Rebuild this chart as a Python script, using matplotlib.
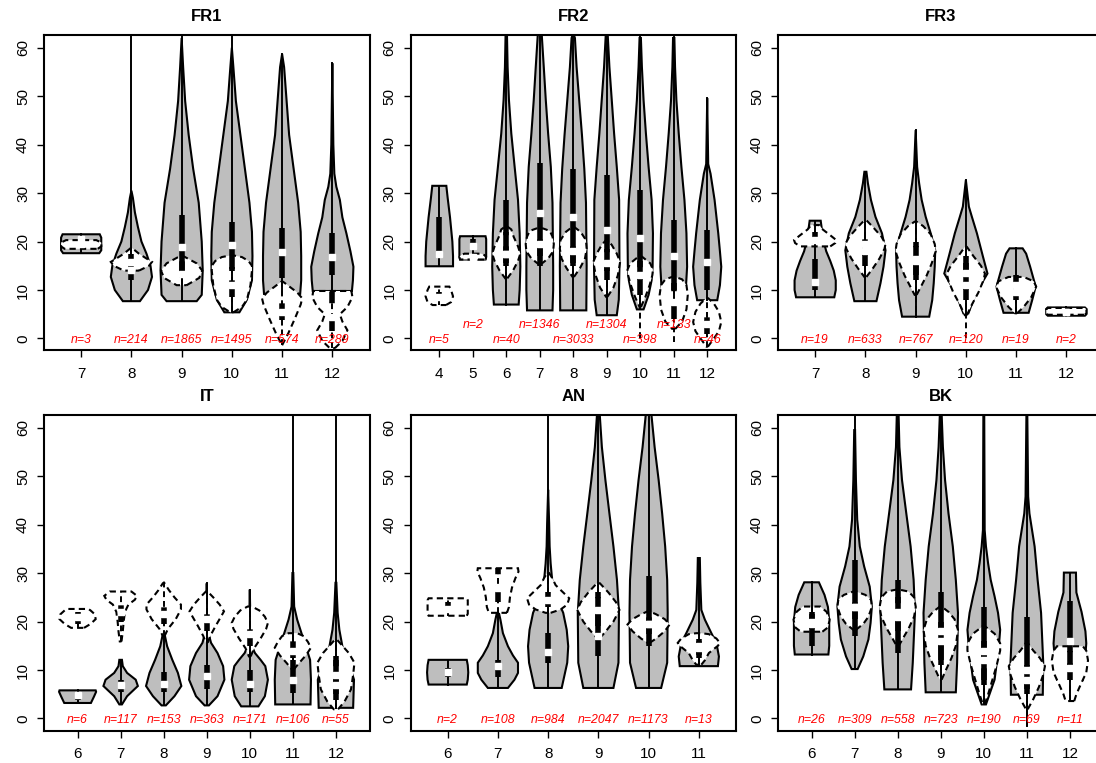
import matplotlib
matplotlib.use("Agg")
import matplotlib.pyplot as plt

plt.rcParams['font.family'] = ['Liberation Sans', 'DejaVu Sans']

# ---- data: violin profiles are (y, half width) pairs,
# stats are (lower whisker, q1, median, q3, upper whisker)

fr1_months = [7, 8, 9, 10, 11, 12]
fr1_n = [3, 214, 1865, 1495, 574, 289]
fr1_grey = [
    [(17.6, .36), (18.2, .4), (20.8, .4), (21.5, .37)],
    [(7.7, .17), (10, .33), (12.7, .41), (15, .38), (17.5, .3), (20, .2), (23, .13), (26, .07), (29, .03), (30.5, 0)],
    [(7.7, .3), (9, .4), (14, .42), (20, .4), (28, .34), (35, .23), (42, .14), (49, .07), (56, .03), (62, 0)],
    [(5.4, .15), (8, .3), (12, .4), (17, .41), (22, .4), (28, .35), (35, .26), (42, .17), (49, .08), (56, .03), (60, 0)],
    [(9.2, .36), (12, .38), (17, .38), (22, .37), (28, .32), (35, .23), (42, .14), (49, .09), (56, .04), (58.7, 0)],
    [(9.8, .39), (12, .41), (14.8, .42), (18, .36), (21.7, .28), (25, .2), (28.6, .15), (31.3, .08), (34, .04), (40, .02), (56.8, 0)],
]
fr1_grey_stats = [(17.6, 19.8, 20.6, 21, 21.5), (7.7, 12.0, 14.1, 15.3, 65), (7.7, 13.4, 18.8, 25.5, 65),
                  (5.4, 14, 19.3, 24.1, 65), (9.2, 12.4, 17.8, 22.7, 58.7), (9.8, 13.1, 16.9, 21.7, 56.8)]
fr1_white = [
    [(18.5, .33), (19.0, .4), (19.8, .4), (20.3, .3)],
    [(14.0, .15), (15.0, .35), (15.8, .41), (16.5, .3), (17.5, .15), (18.6, .02)],
    [(11.0, .1), (12.5, .35), (14, .41), (15.5, .3), (16.9, .05)],
    [(5.4, .03), (6.5, .2), (8, .3), (11, .37), (14, .4), (15, .4), (16, .33), (16.8, .2), (17.2, 0)],
    [(-1.4, 0), (1, .12), (4, .25), (7, .37), (8.3, .4), (9.5, .3), (11.7, .02)],
    [(-2, .05), (-.5, .2), (1.7, .3), (3.5, .2), (5.0, .15), (6.5, .3), (8.5, .4), (9.8, .38)],
]
fr1_white_stats = [(18.5, 18.8, 19.5, 20, 20.3), (14.0, 15.5, 15.8, 17.5, 18.6), (11.0, 12.5, 13.3, 16, 16.9),
                   (5.4, 8.6, 11, 14.8, 17.2), (-1.4, 3.8, 5.5, 7.9, 11.7), (-2, 1.5, 4.5, 9.5, 9.8)]

fr2_months = [4, 5, 6, 7, 8, 9, 10, 11, 12]
fr2_n = [5, 2, 40, 1346, 3033, 1304, 398, 133, 46]
fr2_grey = [
    [(14.9, .41), (17, .41), (20, .39), (25, .32), (29, .25), (31.5, .21)],
    [(16.3, .38), (17, .4), (20.5, .4), (21.1, .38)],
    [(7, .37), (10, .4), (14.8, .42), (21.7, .4), (28.6, .35), (35.4, .25), (42.3, .15), (49.2, .08), (56, .04), (63, .02)],
    [(5.8, .38), (10, .4), (15, .4), (28, .38), (35.4, .33), (42.3, .25), (49.2, .18), (56, .12), (62.6, .06), (66, .04)],
    [(5.8, .39), (15, .4), (28, .38), (35, .33), (42, .26), (49, .18), (56, .1), (62, .05), (63, 0)],
    [(4.8, .3), (8, .36), (14.8, .38), (28.6, .37), (35.4, .3), (42.3, .22), (49.2, .15), (56, .08), (62.6, .03), (65, .02)],
    [(6.0, .1), (9, .25), (12, .34), (14.8, .37), (21.7, .38), (28.6, .34), (35.4, .25), (42.3, .17), (49.2, .1), (56, .05), (62, .02)],
    [(8, .3), (10, .36), (14.8, .4), (21.7, .38), (28.6, .32), (35.4, .23), (42.3, .15), (49.2, .08), (56, .04), (62, .02)],
    [(7.9, .3), (11, .38), (14.8, .42), (18, .38), (21.7, .33), (28.6, .22), (34, .1), (36, .03), (49.6, 0)],
]
fr2_grey_stats = [(14.9, 17.2, 17.4, 25.1, 31.5), (16.3, 18.5, 19.1, 20.5, 21.1), (7.0, 15, 17.5, 28.6, 65),
                  (5.8, 15, 25.9, 36.3, 65), (5.8, 15, 25.1, 34.9, 65), (4.8, 14, 22.4, 33.7, 65),
                  (6.0, 12, 20.8, 30.6, 65), (7, 10, 17, 24.5, 65), (7.9, 10, 15.7, 22.3, 49.6)]
fr2_white = [
    [(6.9, .2), (7.5, .35), (8.7, .41), (10, .35), (10.7, .3)],
    [(16.3, .38), (16.8, .4), (17.2, .35), (17.5, .25)],
    [(12.4, .03), (14, .2), (16, .35), (17.5, .42), (19, .35), (21, .22), (22.5, .15), (23, .05)],
    [(15.3, .03), (16.5, .25), (18, .4), (19.5, .42), (21, .38), (22.2, .3), (22.7, .1)],
    [(12.7, .02), (14.5, .2), (16.5, .35), (18.5, .4), (20.3, .38), (22, .22), (23, .03)],
    [(8.6, .02), (10.5, .2), (13, .33), (15.8, .4), (17.5, .3), (19.3, .15), (20.3, .02)],
    [(6.5, .02), (8.5, .15), (11, .28), (13, .36), (14.2, .38), (15.5, .3), (16.9, .05)],
    [(2, .05), (3.5, .25), (6, .38), (9, .42), (11, .38), (12.2, .25), (12.7, .05)],
    [(-1.7, .02), (0, .2), (1.5, .35), (3.4, .42), (5.5, .35), (7.2, .2), (8.3, .03)],
]
fr2_white_stats = [(6.9, 8, 8.5, 9.5, 10.7), (16.3, 16.5, 16.8, 17.2, 17.5), (12.4, 15.5, 17.5, 22, 23),
                   (15.3, 17, 19.5, 21.5, 22.7), (12.7, 15.5, 18, 21, 23), (8.6, 12, 15.5, 18.5, 20.3),
                   (0, 9, 13, 16, 16.9), (-0.7, 4, 7.5, 11.5, 12.7), (-1.7, 1, 3, 6, 8.3)]

fr3_months = [7, 8, 9, 10, 11, 12]
fr3_n = [19, 633, 767, 120, 19, 2]
fr3_grey = [
    [(8.5, .38), (10, .41), (12, .41), (14, .37), (16, .3), (18, .22), (20, .17), (22, .14), (24.3, .11)],
    [(7.7, .22), (11.4, .3), (14.8, .36), (18.2, .4), (21.7, .33), (25.1, .2), (28.6, .11), (32, .05), (34.4, .02)],
    [(4.5, .27), (7.9, .33), (11.4, .36), (14.8, .38), (18.2, .39), (21.7, .3), (25.1, .2), (28.6, .12), (32, .07), (35.4, .03), (43, 0)],
    [(5.2, .05), (9.3, .2), (13.4, .43), (16.9, .34), (21.7, .22), (25.1, .12), (27.2, .06), (32.7, 0)],
    [(5.3, .25), (7.9, .32), (10.7, .39), (14.8, .28), (17.5, .2), (18.6, .13)],
    [(4.7, .37), (5.0, .4), (6.1, .4), (6.4, .37)],
]
fr3_grey_stats = [(8.5, 10, 11.7, 16.5, 24.3), (7.7, 15, 18, 20, 34.4), (4.5, 12, 16.5, 20, 43),
                  (5.2, 10, 13.5, 17, 32.7), (5.3, 9, 11, 13.1, 18.6), (4.7, 5.2, 5.5, 5.8, 6.4)]
fr3_white = [
    [(19.0, .3), (19.7, .4), (20.3, .42), (21.3, .3), (22.5, .15), (23.4, .08)],
    [(12.7, .02), (14.5, .15), (16.5, .28), (18.5, .38), (19.5, .4), (21, .32), (23, .15), (24.4, .02)],
    [(9, .02), (11, .12), (13, .22), (15.5, .32), (18, .4), (19.5, .38), (21.5, .3), (23.2, .15), (24.1, .02)],
    [(4.8, .02), (7, .12), (9.5, .25), (12, .35), (13.4, .38), (15, .3), (17, .15), (18.9, .02)],
    [(5.2, .02), (6.5, .15), (8.5, .3), (10.7, .4), (11.8, .35), (12.7, .15)],
    [(4.9, .37), (5.2, .4), (6.0, .4), (6.3, .37)],
]
fr3_white_stats = [(19.1, 19.5, 20.3, 22, 23.4), (12.7, 17, 19.5, 21, 24.4), (5.5, 13, 16, 19, 24.1),
                   (0, 8, 11, 15.5, 18.9), (5.2, 8, 9.5, 11.5, 12.7), (4.9, 5.2, 5.5, 5.8, 6.3)]

it_months = [6, 7, 8, 9, 10, 11, 12]
it_n = [6, 117, 153, 363, 171, 106, 55]
it_grey = [
    [(3.2, .31), (4.5, .38), (5.5, .43), (5.8, .42)],
    [(2.9, .03), (4.6, .15), (6.7, .4), (8, .35), (9.4, .15), (10.8, .05), (12.1, .03)],
    [(2.7, .05), (4.6, .25), (6.7, .41), (9.4, .33), (12.1, .2), (14.9, .08), (17, .03), (17.5, 0)],
    [(2.7, .05), (4.6, .25), (8, .41), (10.8, .38), (13.5, .25), (15.6, .1), (17.6, .04), (20, .02), (27.9, 0)],
    [(2.5, .2), (4.6, .35), (8, .42), (10.8, .36), (12.1, .25), (13.5, .12), (14.9, .05), (17, .02), (26.6, 0)],
    [(2.9, .41), (8, .42), (12.1, .4), (14.9, .3), (17.6, .2), (20.4, .1), (23.1, .03), (30, .01)],
    [(2.2, .4), (8, .42), (11.5, .3), (14.9, .15), (18.3, .08), (21.8, .04), (28, .01)],
]
it_grey_stats = [(3.2, 3.8, 4.8, 5.3, 5.8), (2.9, 5.5, 7.0, 8, 12.1), (2.7, 5.5, 7.2, 9.5, 17),
                 (2.7, 6, 8.7, 11, 27.9), (2.5, 5.5, 7.2, 10, 26.6), (2.9, 5.3, 8, 12, 65), (2.2, 3.9, 7, 12.8, 65)]
it_white = [
    [(18.7, .15), (19.5, .3), (20.5, .42), (21.5, .4), (22.3, .3), (22.6, .25)],
    [(15.9, .02), (18, .05), (20, .07), (22, .1), (23.5, .18), (24.5, .33), (25.3, .38), (26.2, .25)],
    [(17, .02), (18.5, .1), (20.5, .28), (22.5, .4), (23.5, .4), (25, .25), (26.5, .12), (27.9, .02)],
    [(15.6, .02), (17, .08), (19, .2), (21, .33), (22.1, .4), (23.5, .3), (25, .15), (26.2, .02)],
    [(12.8, .02), (14.5, .1), (16.5, .25), (18.5, .38), (19.7, .42), (21, .35), (22.3, .22), (23.1, .05)],
    [(10.1, .02), (11.5, .15), (13, .3), (14.6, .42), (15.8, .35), (17, .25), (17.6, .1)],
    [(1.9, .05), (3.5, .2), (6, .35), (9, .4), (11.5, .43), (13.5, .3), (15, .15), (16.3, .02)],
]
it_white_stats = [(18.7, 19.5, 21, 22, 22.6), (15.9, 20, 22, 24, 26.2), (17, 19.5, 21.5, 24, 28.5),
                  (15.6, 18, 20.5, 23, 26.2), (12.8, 15, 17.5, 20.5, 23.1), (10.1, 12.5, 14, 16, 17.6),
                  (1.9, 5, 9, 12, 16.3)]

an_months = [6, 7, 8, 9, 10, 11]
an_n = [2, 108, 984, 2047, 1173, 13]
an_grey = [
    [(7, .38), (8, .4), (9.5, .41), (11, .4), (12.1, .38)],
    [(6.3, .2), (8, .33), (9.4, .4), (11.5, .4), (13, .3), (14.9, .2), (17.6, .1), (20.4, .05), (21.8, .02)],
    [(6.3, .27), (11.5, .38), (14.9, .4), (18.3, .37), (21.8, .3), (25.2, .16), (28.6, .08), (32, .05), (35.5, .03), (40.3, .02), (47.2, 0)],
    [(6.3, .3), (11.5, .4), (21.8, .41), (28.6, .37), (35.5, .3), (42.3, .22), (49.2, .14), (56, .07), (62.3, .03), (64, .02)],
    [(6.3, .25), (11.5, .37), (21.8, .38), (28.6, .37), (35.5, .33), (42.3, .27), (49.2, .2), (56, .12), (62.3, .06), (65, .04)],
    [(10.8, .38), (12.8, .4), (15.6, .35), (17.6, .25), (20.4, .12), (22.4, .05), (28, .03), (33.1, .02)],
]
an_grey_stats = [(7, 8.5, 9.6, 10.5, 12.1), (6.3, 8.5, 10.8, 12, 21.8), (6.3, 11.5, 13.7, 17.6, 65),
                 (6.3, 12.8, 17, 26, 65), (6.3, 15, 19.5, 29.3, 65), (10.8, 13, 15, 16.5, 33.1)]
an_white = [
    [(21.2, .38), (21.6, .4), (24.4, .4), (24.8, .38)],
    [(21.8, .18), (23, .22), (25, .24), (27, .28), (29, .35), (30.3, .41), (31, .4)],
    [(21.8, .05), (22.5, .25), (23.5, .38), (24.8, .42), (26, .3), (27.5, .15), (29, .08), (30, .02)],
    [(16.6, .03), (18, .15), (20, .3), (22.4, .42), (24, .35), (26, .2), (27.9, .03)],
    [(15.6, .02), (16.5, .15), (18, .32), (19.4, .42), (20.5, .32), (21.5, .15), (22.1, .02)],
    [(11.1, .05), (12, .12), (13.5, .2), (15, .38), (15.6, .42), (16.5, .35), (17.4, .2), (17.6, .05)],
]
an_white_stats = [(21.2, 22, 22.5, 24, 24.8), (21.8, 24, 27, 31, 31), (21.8, 23, 24.5, 26, 30),
                  (16.6, 19, 22.4, 25, 27.9), (15.6, 17.5, 19.4, 21, 22.1), (11.1, 12.5, 14.5, 16.5, 17.6)]

bk_months = [6, 7, 8, 9, 10, 11, 12]
bk_n = [26, 309, 558, 723, 190, 69, 11]
bk_grey = [
    [(13.2, .39), (15, .41), (20, .41), (23, .38), (25.5, .3), (27.5, .2), (28.1, .17)],
    [(10.2, .07), (12.8, .2), (16.3, .32), (19.7, .37), (23.1, .4), (27.2, .35), (31.4, .22), (35.5, .12), (41, .06), (49.2, .03), (59.5, .01)],
    [(6, .31), (11.5, .35), (21.8, .4), (28.6, .37), (35.5, .3), (42.3, .2), (49.2, .1), (56, .04), (63, .02)],
    [(5.4, .35), (11.5, .38), (21.8, .4), (28.6, .35), (35.5, .28), (42.3, .18), (49.2, .1), (56, .05), (63, .02)],
    [(2.9, .05), (8, .25), (14.9, .35), (18.3, .38), (21.8, .33), (25.2, .25), (28.6, .16), (32, .1), (35.5, .05), (38.9, .02), (63, .01)],
    [(4.9, .37), (11.5, .38), (21.8, .33), (28.6, .25), (35.5, .18), (38.9, .12), (42.3, .06), (45.8, .03), (63, .01)],
    [(8, .3), (12, .35), (15.5, .38), (18, .36), (22, .27), (26, .15), (30.1, .14)],
]
bk_grey_stats = [(13.2, 14.9, 19.5, 22, 28.1), (10.2, 17, 23, 32.7, 65), (6, 13.5, 21, 28.6, 65),
                 (5.4, 11, 18, 26, 65), (2.9, 8, 14, 23.1, 65), (-1.6, 6, 10, 21, 65), (3.6, 11, 15.9, 24.2, 30.1)]
bk_white = [
    [(17.9, .25), (18.8, .38), (20.4, .42), (22, .35), (23.1, .2)],
    [(18.3, .03), (19.5, .2), (21, .32), (23, .4), (24.5, .38), (25.5, .25), (26.2, .03)],
    [(14.9, .02), (16.5, .12), (18.5, .25), (21, .38), (23, .42), (25, .38), (26.2, .25), (26.6, .03)],
    [(8, .02), (10, .12), (12.5, .25), (15, .35), (18.3, .4), (20.5, .32), (22, .18), (23.1, .02)],
    [(2.9, .02), (5, .1), (8, .2), (11, .3), (14, .38), (15.5, .38), (17.5, .25), (19, .03)],
    [(1.9, .02), (4, .15), (6.5, .28), (9, .38), (10.8, .42), (12.5, .3), (14, .15), (15.6, .02)],
    [(3.6, .1), (5, .15), (7, .25), (9.5, .38), (12, .42), (14, .38), (14.9, .3)],
]
bk_white_stats = [(17.9, 18.5, 20, 21.5, 23.1), (18.3, 20.5, 23, 25, 26.2), (14.9, 18, 22, 25, 26.6),
                  (8, 12, 16, 20, 23.1), (2.9, 7, 12, 16, 19), (-1.6, 5, 8, 11, 15.6), (3.6, 8, 10.5, 14, 14.9)]

panels = [
    ("FR1", fr1_months, fr1_n, fr1_grey, fr1_grey_stats, fr1_white, fr1_white_stats),
    ("FR2", fr2_months, fr2_n, fr2_grey, fr2_grey_stats, fr2_white, fr2_white_stats),
    ("FR3", fr3_months, fr3_n, fr3_grey, fr3_grey_stats, fr3_white, fr3_white_stats),
    ("IT", it_months, it_n, it_grey, it_grey_stats, it_white, it_white_stats),
    ("AN", an_months, an_n, an_grey, an_grey_stats, an_white, an_white_stats),
    ("BK", bk_months, bk_n, bk_grey, bk_grey_stats, bk_white, bk_white_stats),
]

W, H = 1096, 763
lefts = [44, 410.5, 778]
tops = [35, 415]
ax_w, ax_h = 325.5, 315.5
DASH = (0, (3, 2))


def draw_violin(ax, x, profile, stats, face, ls):
    ys = [p[0] for p in profile]
    hw = [p[1] for p in profile]
    xs = [x + w for w in hw] + [x - w for w in hw[::-1]]
    yy = ys + ys[::-1]
    ax.fill(xs, yy, facecolor=face, edgecolor='black', lw=1.5, linestyle=ls, zorder=2)
    lo, q1, med, q3, hi = stats
    ax.plot([x, x], [lo, hi], color='black', lw=1.4, linestyle=ls, zorder=3)
    ax.plot([x, x], [q1, q3], color='black', lw=4, linestyle=ls, solid_capstyle='butt', zorder=3)
    ax.plot([x], [med], 's', color='white', ms=5, zorder=4)


def draw_panel(ax, title, months, counts, grey, grey_stats, white, white_stats):
    k = len(months)
    pos = list(range(1, k + 1))
    for i in range(k):
        draw_violin(ax, pos[i], grey[i], grey_stats[i], '#bebebe', '-')
    for i in range(k):
        draw_violin(ax, pos[i], white[i], white_stats[i], 'white', DASH)
    stagger = k > 7
    for i in range(k):
        yl = 2.8 if (stagger and i % 2 == 1) else -0.3
        ax.text(pos[i], yl, 'n=%d' % counts[i], color='#ff0000', style='italic',
                fontsize=8.8, ha='center', va='center', zorder=6)
    ext = 0.04 * k
    ax.set_xlim(0.5 - ext, k + 0.5 + ext)
    ax.set_ylim(-2.48, 62.62)
    ax.set_xticks(pos)
    ax.set_xticklabels([str(m) for m in months])
    ax.set_yticks([0, 10, 20, 30, 40, 50, 60])
    ax.set_yticklabels(['0', '10', '20', '30', '40', '50', '60'], rotation=90, va='center')
    ax.tick_params(length=5, width=1, labelsize=11, pad=5)
    ax.tick_params(axis='x', pad=7)
    for s in ax.spines.values():
        s.set_linewidth(1.5)
    ax.set_title(title, fontsize=12, fontweight='bold', pad=10)


fig = plt.figure(figsize=(W / 100, H / 100), dpi=100)
for idx, p in enumerate(panels):
    r, c = divmod(idx, 3)
    rect = [lefts[c] / W, 1 - (tops[r] + ax_h) / H, ax_w / W, ax_h / H]
    ax = fig.add_axes(rect)
    draw_panel(ax, *p)

fig.savefig('out.png', dpi=100)
